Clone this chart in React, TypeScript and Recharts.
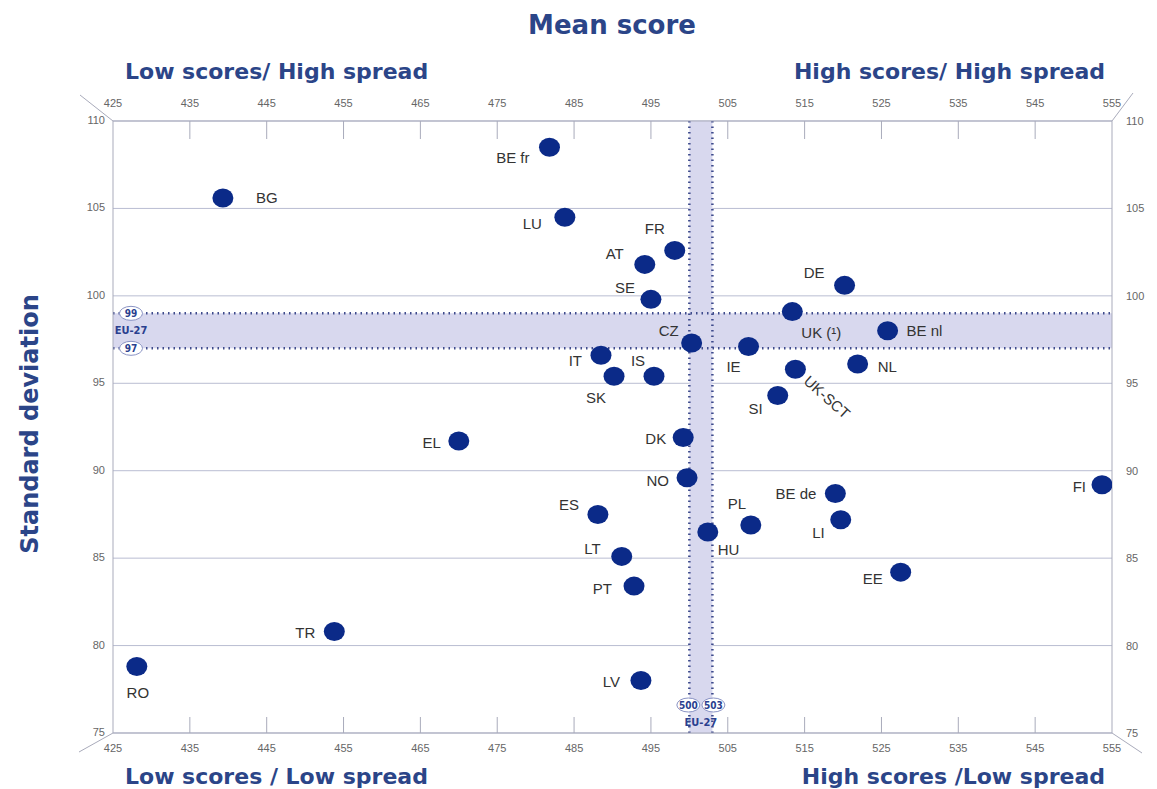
import React from 'react'
import {
  CartesianGrid,
  ReferenceArea,
  ReferenceLine,
  Scatter,
  ScatterChart,
  XAxis,
  YAxis
} from 'recharts'

// countries, mean score (x) and standard deviation (y)
const codes = ['BE fr', 'BG', 'LU', 'FR', 'AT', 'DE', 'SE', 'UK (¹)', 'BE nl', 'CZ', 'IE', 'IT', 'NL', 'UK-SCT', 'SK', 'IS',
  'SI', 'EL', 'DK', 'NO', 'FI', 'BE de', 'ES', 'LI', 'PL', 'HU', 'LT', 'EE', 'PT', 'TR', 'RO', 'LV']
const meanScores = [481.8, 439.3, 483.8, 498.1, 494.2, 520.2, 495.0, 513.4, 525.8, 500.3, 507.7, 488.5, 521.9, 513.8, 490.2, 495.4,
  511.5, 470.0, 499.2, 499.7, 553.7, 519.0, 488.1, 519.7, 508.0, 502.4, 491.2, 527.5, 492.8, 453.8, 428.1, 493.7]
const stdDevs = [108.5, 105.6, 104.5, 102.6, 101.8, 100.6, 99.8, 99.1, 98.0, 97.3, 97.1, 96.6, 96.1, 95.8, 95.4, 95.4,
  94.3, 91.7, 91.9, 89.6, 89.2, 88.7, 87.5, 87.2, 86.9, 86.5, 85.1, 84.2, 83.4, 80.8, 78.8, 78.0]

const xTicks = [425, 435, 445, 455, 465, 475, 485, 495, 505, 515, 525, 535, 545, 555]
const yTicks = [75, 80, 85, 90, 95, 100, 105, 110]
const euMean = [500, 503]
const euStd = [97, 99]

const data = codes.map((code, i) => ({code, x: meanScores[i], y: stdDevs[i]}))

// where each country label sits relative to its dot
const labelPos: Record<string, {dx: number, dy: number, anchor: string, rotate?: number}> = {
  'BE fr': {dx: -20, dy: 10, anchor: 'end'},
  'BG': {dx: 33, dy: 0, anchor: 'start'},
  'LU': {dx: -23, dy: 6, anchor: 'end'},
  'FR': {dx: -20, dy: -22, anchor: 'middle'},
  'AT': {dx: -21, dy: -11, anchor: 'end'},
  'DE': {dx: -20, dy: -13, anchor: 'end'},
  'SE': {dx: -16, dy: -12, anchor: 'end'},
  'UK (¹)': {dx: 9, dy: 21, anchor: 'start'},
  'BE nl': {dx: 19, dy: 0, anchor: 'start'},
  'CZ': {dx: -13, dy: -13, anchor: 'end'},
  'IE': {dx: -15, dy: 20, anchor: 'middle'},
  'IT': {dx: -19, dy: 5, anchor: 'end'},
  'NL': {dx: 20, dy: 2, anchor: 'start'},
  'UK-SCT': {dx: 11, dy: 9, anchor: 'start', rotate: 42},
  'SK': {dx: -18, dy: 21, anchor: 'middle'},
  'IS': {dx: -16, dy: -16, anchor: 'middle'},
  'SI': {dx: -15, dy: 13, anchor: 'end'},
  'EL': {dx: -18, dy: 2, anchor: 'end'},
  'DK': {dx: -17, dy: 1, anchor: 'end'},
  'NO': {dx: -18, dy: 3, anchor: 'end'},
  'FI': {dx: -16, dy: 2, anchor: 'end'},
  'BE de': {dx: -19, dy: 0, anchor: 'end'},
  'ES': {dx: -19, dy: -10, anchor: 'end'},
  'LI': {dx: -16, dy: 13, anchor: 'end'},
  'PL': {dx: -14, dy: -21, anchor: 'middle'},
  'HU': {dx: 10, dy: 18, anchor: 'start'},
  'LT': {dx: -21, dy: -8, anchor: 'end'},
  'EE': {dx: -18, dy: 6, anchor: 'end'},
  'PT': {dx: -22, dy: 2, anchor: 'end'},
  'TR': {dx: -19, dy: 1, anchor: 'end'},
  'RO': {dx: 1, dy: 26, anchor: 'middle'},
  'LV': {dx: -21, dy: 1, anchor: 'end'}
}

const W = 1157
const H = 789
const TITLE = '#2b4588'
const DOT = '#0b2a88'
const AXIS = '#a9abbb'
const GRID = '#b9bdd2'
const BAND = '#d8d8ee'
const DOTTED = '#3e4b8c'
const TICK_FONT = {fontSize: 11, fill: '#666', fontFamily: 'Liberation Sans, Arial, sans-serif'}

const Dot = (props: any) => {
  const {cx, cy, payload} = props
  const p = labelPos[payload.code] || {dx: 14, dy: 0, anchor: 'start'}
  const tx = cx + p.dx
  const ty = cy + p.dy
  return (
    <g>
      <ellipse cx={cx} cy={cy} rx={10.5} ry={9.5} fill={DOT} />
      <text
        x={tx}
        y={ty}
        textAnchor={p.anchor as any}
        dominantBaseline='central'
        fontSize={15}
        fill='#333'
        fontFamily='Liberation Sans, Arial, sans-serif'
        transform={p.rotate ? `rotate(${p.rotate} ${tx} ${ty})` : undefined}
      >
        {payload.code}
      </text>
    </g>
  )
}

// draws nothing: only ties the top and right axes to the data
const Nothing = () => <g />

const TopTick = (props: any) => {
  const {x, y, payload} = props
  const edge = payload.value !== 425 && payload.value !== 555
  return (
    <g>
      <text x={x} y={y - 18} textAnchor='middle' dominantBaseline='central' {...TICK_FONT}>{payload.value}</text>
      {edge && <line x1={x} x2={x} y1={y} y2={y + 18} stroke={AXIS} />}
    </g>
  )
}

const BottomTick = (props: any) => {
  const {x, y, payload} = props
  const edge = payload.value !== 425 && payload.value !== 555
  return (
    <g>
      <text x={x} y={y + 15} textAnchor='middle' dominantBaseline='central' {...TICK_FONT}>{payload.value}</text>
      {edge && <line x1={x} x2={x} y1={y} y2={y - 16} stroke={AXIS} />}
    </g>
  )
}

const LeftTick = (props: any) => {
  const {x, y, payload} = props
  return <text x={x} y={y - 1} textAnchor='end' dominantBaseline='central' {...TICK_FONT}>{payload.value}</text>
}

const RightTick = (props: any) => {
  const {x, y, payload} = props
  return <text x={x} y={y} textAnchor='start' dominantBaseline='central' {...TICK_FONT}>{payload.value}</text>
}

const Pill = ({x, y, value}: {x: number, y: number, value: number}) => (
  <g>
    <ellipse cx={x} cy={y} rx={11.5} ry={7} fill='#fff' stroke='#8a93c4' strokeWidth={1} />
    <text x={x} y={y} textAnchor='middle' dominantBaseline='central' fontSize={10} fontWeight='bold'
      fill='#2a3f8f' fontFamily='DejaVu Sans Condensed, Liberation Sans Narrow, Arial, sans-serif'>{value}</text>
  </g>
)

const hLineLabel = (value: number) => (props: any) => {
  const {viewBox} = props
  return <Pill x={viewBox.x + 18} y={viewBox.y} value={value} />
}

const vLineLabel = (value: number, shift: number) => (props: any) => {
  const {viewBox} = props
  return <Pill x={viewBox.x + shift} y={viewBox.y + viewBox.height - 28} value={value} />
}

const euText = (x: number, y: number) => (
  <text x={x} y={y} textAnchor='middle' dominantBaseline='central' fontSize={11} fontWeight='bold'
    fill='#2a3f8f' fontFamily='DejaVu Sans Condensed, Liberation Sans Narrow, Arial, sans-serif'>EU-27</text>
)

const hAreaLabel = (props: any) => {
  const {viewBox} = props
  return euText(viewBox.x + 18, viewBox.y + viewBox.height / 2)
}

const vAreaLabel = (props: any) => {
  const {viewBox} = props
  return euText(viewBox.x + viewBox.width / 2, viewBox.y + viewBox.height - 11)
}

const titleStyle: React.CSSProperties = {
  position: 'absolute',
  color: TITLE,
  fontFamily: 'DejaVu Sans, sans-serif',
  fontWeight: 'bold',
  whiteSpace: 'nowrap',
  lineHeight: 1
}

const App = () => (
  <div style={{position: 'absolute', left: 0, top: 0, width: W, height: H, background: '#fff'}}>
    <ScatterChart width={W} height={H} margin={{top: 91, right: 5, bottom: 26, left: 73}}>
      <CartesianGrid vertical={false} stroke={GRID} xAxisId='bottom' yAxisId='left' />
      <XAxis xAxisId='bottom' dataKey='x' type='number' domain={[425, 555]} ticks={xTicks} orientation='bottom'
        height={30} tickSize={0} tickMargin={0} tickLine={false} stroke={AXIS} tick={<BottomTick />} allowDataOverflow />
      <XAxis xAxisId='top' dataKey='x' type='number' domain={[425, 555]} ticks={xTicks} orientation='top'
        height={30} tickSize={0} tickMargin={0} tickLine={false} stroke={AXIS} tick={<TopTick />} allowDataOverflow />
      <YAxis yAxisId='left' dataKey='y' type='number' domain={[75, 110]} ticks={yTicks} orientation='left'
        width={40} tickSize={0} tickMargin={8} tickLine={false} stroke={AXIS} tick={<LeftTick />} allowDataOverflow />
      <YAxis yAxisId='right' dataKey='y' type='number' domain={[75, 110]} ticks={yTicks} orientation='right'
        width={40} tickSize={0} tickMargin={14} tickLine={false} stroke={AXIS} tick={<RightTick />} allowDataOverflow />

      <ReferenceArea xAxisId='bottom' yAxisId='left' y1={euStd[0]} y2={euStd[1]} fill={BAND} fillOpacity={1}
        stroke='none' label={hAreaLabel} />
      <ReferenceArea xAxisId='bottom' yAxisId='left' x1={euMean[0]} x2={euMean[1]} fill={BAND} fillOpacity={1}
        stroke='none' label={vAreaLabel} />
      <ReferenceLine xAxisId='bottom' yAxisId='left' y={euStd[1]} stroke={DOTTED} strokeWidth={2.5}
        strokeDasharray='1.5 4' label={hLineLabel(euStd[1])} />
      <ReferenceLine xAxisId='bottom' yAxisId='left' y={euStd[0]} stroke={DOTTED} strokeWidth={2.5}
        strokeDasharray='1.5 4' label={hLineLabel(euStd[0])} />
      <ReferenceLine xAxisId='bottom' yAxisId='left' x={euMean[0]} stroke={DOTTED} strokeWidth={2.5}
        strokeDasharray='1.5 4' label={vLineLabel(euMean[0], -1)} />
      <ReferenceLine xAxisId='bottom' yAxisId='left' x={euMean[1]} stroke={DOTTED} strokeWidth={2.5}
        strokeDasharray='1.5 4' label={vLineLabel(euMean[1], 1)} />

      <Scatter xAxisId='top' yAxisId='right' data={data} shape={<Nothing />} isAnimationActive={false} />
      <Scatter xAxisId='bottom' yAxisId='left' data={data} shape={<Dot />} isAnimationActive={false} />
    </ScatterChart>

    {/* box corner strokes */}
    <svg width={W} height={H} style={{position: 'absolute', left: 0, top: 0, pointerEvents: 'none'}}>
      <line x1={113} y1={121} x2={80} y2={95} stroke={AXIS} />
      <line x1={1112} y1={121} x2={1133} y2={93} stroke={AXIS} />
      <line x1={1112} y1={733} x2={1142} y2={753} stroke={AXIS} />
      <line x1={113} y1={733} x2={79} y2={752} stroke={AXIS} />
    </svg>

    <div style={{...titleStyle, fontSize: 26, left: 0, width: 1224, top: 12, textAlign: 'center'}}>Mean score</div>
    <div style={{...titleStyle, fontSize: 22, left: 125, top: 61}}>Low scores/ High spread</div>
    <div style={{...titleStyle, fontSize: 22, right: 52, top: 61}}>High scores/ High spread</div>
    <div style={{...titleStyle, fontSize: 22, left: 125, top: 766}}>Low scores / Low spread</div>
    <div style={{...titleStyle, fontSize: 22, right: 52, top: 766}}>High scores /Low spread</div>
    <div style={{
      ...titleStyle,
      fontSize: 24,
      left: 30,
      top: 424,
      transform: 'translate(-50%, -50%) rotate(-90deg)'
    }}>Standard deviation</div>
  </div>
)

export default App
